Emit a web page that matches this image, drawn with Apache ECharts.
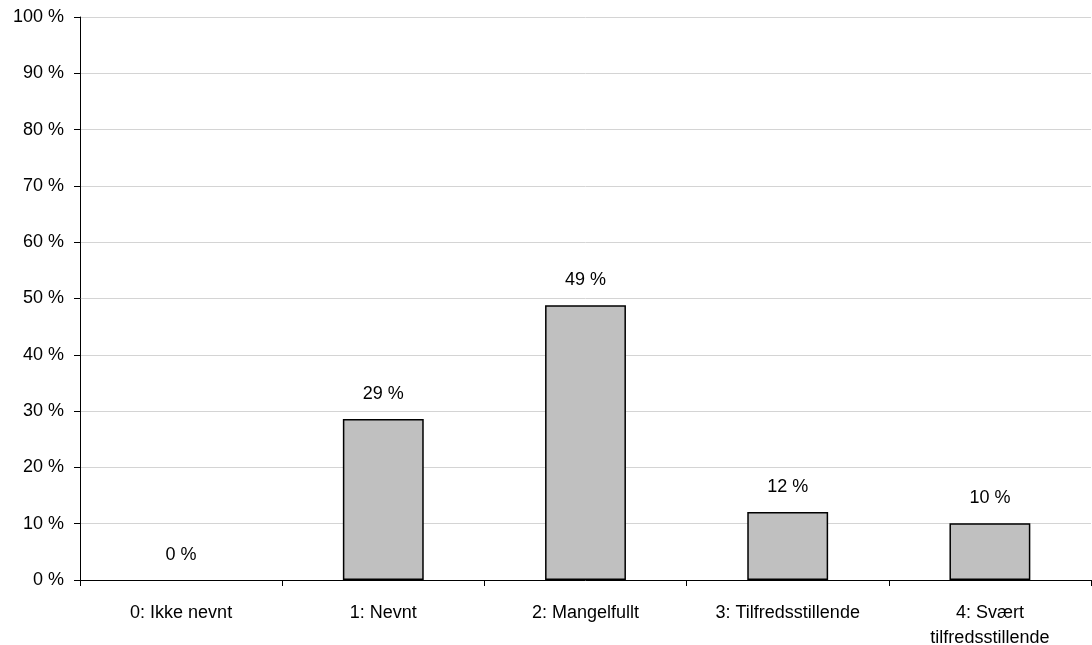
<!DOCTYPE html>
<html><head><meta charset="utf-8">
<script src="https://cdn.jsdelivr.net/npm/echarts@6/dist/echarts.min.js"></script>
<style>html,body{margin:0;padding:0;background:#fff}#c{width:1092px;height:645px}</style>
</head><body><div id="c"></div>
<script>
const categories = ["0: Ikke nevnt", "1: Nevnt", "2: Mangelfullt", "3: Tilfredsstillende", "4: Svært\ntilfredsstillende"];
const values = [0, 28.6, 48.8, 12.1, 10.1];
const yTicks = [0, 10, 20, 30, 40, 50, 60, 70, 80, 90, 100];

const chart = echarts.init(document.getElementById('c'));
const font = 'Liberation Sans, Arial, sans-serif';
chart.setOption({
  animation: false,
  grid: {left: 80, right: 1, top: 17, bottom: 65, containLabel: false, outerBoundsMode: 'none'},
  xAxis: {
    type: 'category', data: categories,
    axisLine: {lineStyle: {color: '#000', width: 1}},
    axisTick: {show: true, alignWithLabel: false, length: 6, lineStyle: {color: '#000'}},
    axisLabel: {color: '#000', fontFamily: font, fontSize: 18, margin: 21, lineHeight: 25, interval: 0}
  },
  yAxis: {
    type: 'value', min: yTicks[0], max: yTicks[yTicks.length-1], interval: 10,
    axisLine: {show: true, lineStyle: {color: '#000', width: 1}},
    axisTick: {show: true, length: 6, lineStyle: {color: '#000'}},
    axisLabel: {color: '#000', fontFamily: font, fontSize: 18, margin: 16, formatter: v => v + ' %'},
    splitLine: {lineStyle: {color: '#d4d4d4', width: 1}}
  },
  series: [{
    type: 'bar',
    data: values.map(v => v === 0 ? {value: v, itemStyle: {borderWidth: 0}} : v),
    barWidth: '40%',
    itemStyle: {color: '#c0c0c0', borderColor: '#000', borderWidth: 1.5},
    label: {show: true, position: 'top', distance: 16, color: '#000', fontFamily: font, fontSize: 18,
      formatter: p => Math.round(p.value) + ' %'}
  }]
});
</script></body></html>
